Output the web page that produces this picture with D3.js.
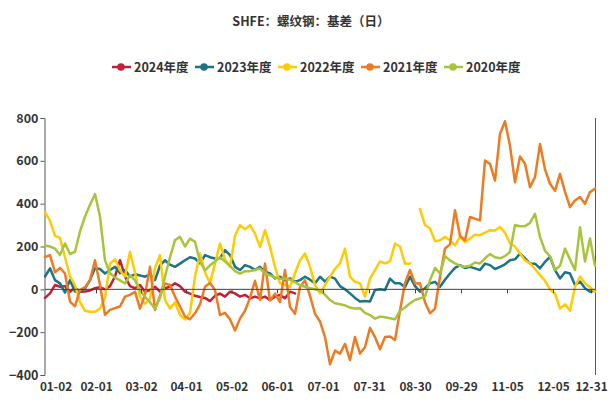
<!DOCTYPE html>
<html><head><meta charset="utf-8">
<script src="https://cdn.jsdelivr.net/npm/d3@7/dist/d3.min.js"></script>
<style>
html,body{margin:0;padding:0;background:#fff;}
svg{display:block;font-family:"Noto Sans CJK SC","Noto Sans",sans-serif;}
</style></head>
<body>
<svg id="c" width="613" height="412"></svg>
<script>
const title = "SHFE：螺纹钢：基差（日）";
const seriesNames = ["2024年度","2023年度","2022年度","2021年度","2020年度"];
const seriesColors = ["#C3203A","#1E7384","#FFCB05","#EC7C24","#A8C43C"];
const yTicks = [-400,-200,0,200,400,600,800];
const xTickLabels = ["01-02","02-01","03-02","04-01","05-02","06-01","07-01","07-31","08-30","09-29","11-05","12-05","12-31"];
const xTickPos = [2.1,10.2,19.2,28.2,37.3,46.4,55.6,64.8,74,83.2,92.4,101.6,109.2];

const s2024 = [-40,-19,20,12,15,-11,8,-11,-10,-5,5,10,0,15,60,136,60,15,5,20,-11,-3,12,-11,5,12,28,15,-11,-20,-30,-36,-40,-55,-30,-20,-34,-11,-19,-34,-26,-42,-34,-42,-34,-50,-34,-26,-42,-11,-19];
const s2023 = [60,98,43,28,-15,43,-10,-11,5,43,98,95,74,90,105,75,90,59,70,65,59,70,43,110,136,115,105,120,136,150,144,121,160,150,144,145,183,160,105,90,113,105,90,105,82,74,51,59,43,51,36,43,59,45,28,59,36,59,50,15,0,-19,-40,-57,-55,-57,-3,0,-3,50,28,28,10,59,15,-11,5,28,35,12,45,74,100,113,100,105,98,90,120,113,95,105,117,136,140,167,145,121,120,98,128,152,90,51,80,74,20,36,5,-11,-5];
const s2022 = [360,320,250,240,150,60,20,-60,-100,-105,-105,-90,-40,120,140,89,60,175,80,-34,-67,-45,100,160,-50,-90,-60,-120,-140,-110,60,167,80,28,120,214,140,105,250,300,280,300,260,198,276,198,105,28,20,12,75,136,167,105,20,-19,20,59,95,121,190,59,35,28,-34,50,90,130,121,130,214,200,120,121,null,375,300,284,225,229,245,229,205,245,220,237,255,253,265,276,275,291,265,214,200,167,135,121,95,67,40,0,-19,-90,-70,-100,12,60,28,10,-11];
const s2021 = [150,160,80,100,74,-57,-80,-3,10,43,136,20,-119,-96,-88,-80,-34,-26,-11,-90,-26,105,-96,-30,28,20,-34,-80,-127,-140,-112,-70,12,30,-3,-120,-110,-140,-192,-137,-100,-40,40,-50,120,-52,-20,-60,90,-83,-114,10,42,-30,-114,-150,-223,-350,-286,-300,-255,-330,-223,-300,-270,-180,-223,-280,-223,-220,-237,-100,30,90,27,28,-60,-112,-90,59,191,210,369,250,229,338,330,322,601,586,508,725,785,670,500,620,586,477,524,679,560,493,460,539,455,384,415,431,400,454,470];
const s2020 = [205,200,190,160,214,165,175,270,340,395,445,340,135,75,55,42,27,66,42,-5,-35,-60,-90,-40,60,150,230,245,200,237,222,130,89,112,130,150,130,110,85,73,85,85,90,97,75,65,55,50,50,45,34,19,12,5,0,-5,-25,-50,-65,-70,-75,-85,-90,-88,-110,-120,-137,-127,-130,-135,-140,-100,-85,-65,-50,-42,-34,43,100,74,155,135,121,110,105,110,125,121,145,165,150,145,155,175,300,295,295,310,353,245,180,155,90,110,190,140,90,290,130,237,110];
const seriesData = [s2024, s2023, s2022, s2021, s2020];

const svg = d3.select("#c");
const x = d3.scaleLinear().domain([0,110]).range([45,595]);
const y = d3.scaleLinear().domain([-400,800]).range([375,118]);
const textColor = "#333";

svg.append("text").attr("x",311).attr("y",26).attr("text-anchor","middle")
  .attr("font-size",12.5).attr("font-weight","bold").attr("fill",textColor).text(title);

// legend
const legX = [134,217,300,383,466];
const leg = svg.append("g");
seriesNames.forEach((n,i)=>{
  const g = leg.append("g").attr("transform",`translate(${legX[i]},67)`);
  g.append("line").attr("x1",-22).attr("x2",-3).attr("y1",0).attr("y2",0)
    .attr("stroke",seriesColors[i]).attr("stroke-width",2.5);
  g.append("circle").attr("cx",-13).attr("cy",0).attr("r",3.8).attr("fill",seriesColors[i]);
  g.append("text").attr("x",0).attr("y",0).attr("dy","0.36em").attr("font-size",12.5)
    .attr("font-weight","bold").attr("fill",textColor).text(n);
});

// y axis
const yAxis = d3.axisLeft(y).tickValues(yTicks).tickSize(4).tickPadding(2).tickFormat(d3.format("d"));
const ga = svg.append("g").attr("transform","translate(44.5,0)").call(yAxis);
ga.select(".domain").attr("stroke","#595959");
ga.selectAll(".tick line").attr("stroke","#595959");
ga.selectAll(".tick text").attr("font-size",12.5).attr("font-weight","bold").attr("fill",textColor)
  .attr("font-family","\"Noto Sans CJK SC\",sans-serif");

// right border
svg.append("line").attr("x1",595.5).attr("x2",595.5).attr("y1",118).attr("y2",375)
  .attr("stroke","#595959").attr("stroke-width",1);

// series lines
const line = d3.line().defined(d=>d!=null).x((d,i)=>x(i)).y(d=>y(d));
seriesData.forEach((s,i)=>{
  svg.append("path").datum(s).attr("d",line).attr("fill","none")
    .attr("stroke",seriesColors[i]).attr("stroke-width",2.5)
    .attr("stroke-linejoin","round").attr("stroke-linecap","round");
});

// zero line + x axis ticks
const xAxis = d3.axisBottom(x).tickValues(xTickPos).tickSize(4)
  .tickFormat((d,i)=>xTickLabels[i]);
const gx = svg.append("g").attr("transform",`translate(0,${y(0)})`).call(xAxis);
gx.select(".domain").remove();
gx.append("line").attr("x1",45).attr("x2",595).attr("stroke","#404040").attr("stroke-width",1);
gx.selectAll(".tick line").attr("stroke","#404040").filter((d,i)=>i===0).remove();
gx.selectAll(".tick text").attr("font-size",11.8).attr("font-weight","bold").attr("fill",textColor)
  .attr("font-family","\"Noto Sans CJK SC\",sans-serif")
  .attr("y",y(-400)-y(0)+8);
</script>
</body></html>
